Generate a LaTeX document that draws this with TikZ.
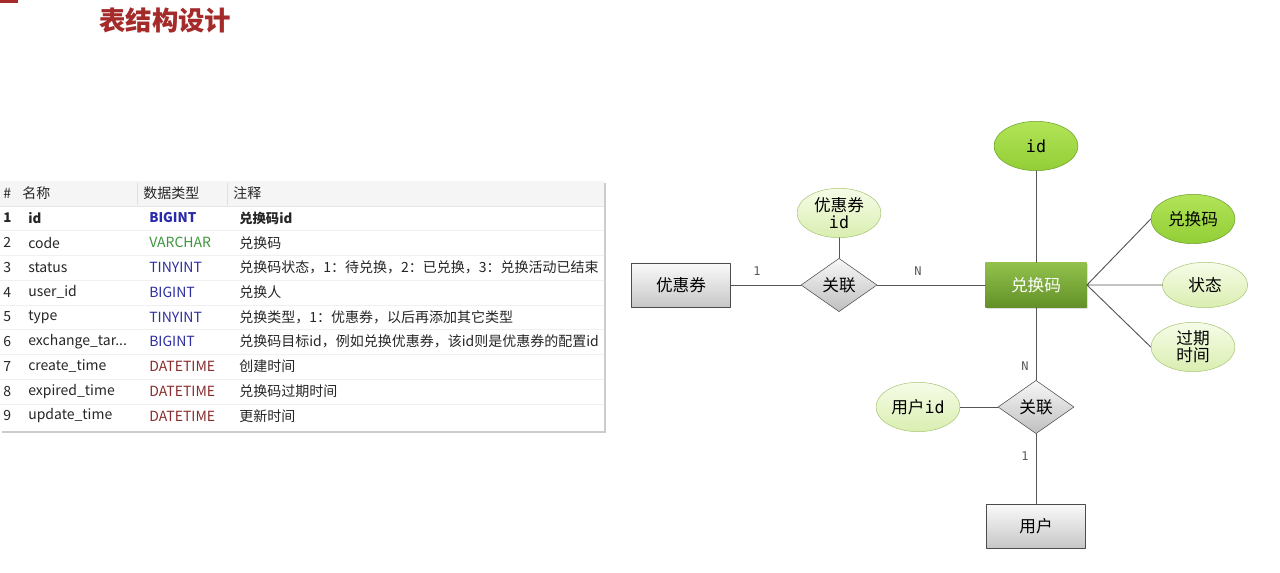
\documentclass[tikz,border=0pt]{standalone}
\usepackage{fontspec}
\setmainfont{Noto Sans CJK SC}
\newfontfamily\monof{DejaVu Sans Mono}
\usetikzlibrary{shapes.geometric,shadows}
\definecolor{titlered}{HTML}{A52A2A}
\definecolor{intblue}{HTML}{2E2EA0}
\definecolor{charg}{HTML}{3C963C}
\definecolor{datered}{HTML}{8B2C2C}
\definecolor{lnc}{HTML}{555555}
\newcommand\exname{exchange\_tar...}

\begin{document}
\begin{tikzpicture}[x=0.75pt,y=-0.75pt,font=\fontsize{10.5}{12}\selectfont,line join=round,line cap=round,
	cell/.style={anchor=west,inner sep=0pt,text=black!85},
	box/.style={draw=black!70,top color=black!2,bottom color=black!22,minimum width=74pt,minimum height=33pt,inner sep=0pt,font=\fontsize{12.5}{14}\selectfont},
	rel/.style={diamond,draw=black!70,top color=black!3,bottom color=black!25,minimum width=57pt,minimum height=40pt,inner sep=0pt,font=\fontsize{12.5}{14}\selectfont},
	main/.style={draw=none,top color={rgb,255:red,146;green,194;blue,76},bottom color={rgb,255:red,98;green,144;blue,40},text=white,minimum width=76pt,minimum height=34pt,inner sep=0pt,font=\fontsize{12.5}{14}\selectfont,drop shadow={shadow xshift=1pt,shadow yshift=-1pt,opacity=.25}},
	attr/.style={ellipse,draw={rgb,255:red,168;green,198;blue,120},top color={rgb,255:red,246;green,252;blue,232},bottom color={rgb,255:red,218;green,238;blue,176},minimum width=63pt,minimum height=37pt,inner sep=0pt,align=center,font=\fontsize{12.5}{15}\selectfont},
	key/.style={attr,draw={rgb,255:red,110;green,160;blue,46},top color={rgb,255:red,178;green,228;blue,88},bottom color={rgb,255:red,146;green,206;blue,54}},
	conn/.style={draw=lnc,line width=0.7pt},
	card/.style={font=\monof\fontsize{9}{10}\selectfont,text=black!65,inner sep=0pt}]
	\useasboundingbox (0,0) rectangle (1280,573);
	% title
	\fill[titlered] (0,0) rectangle (18,3);
	\node[anchor=west,inner sep=0pt,text=titlered,font=\fontsize{19.8}{22}\selectfont\bfseries] (title) at (99,20) {表结构设计};
	% table
	\fill[white,drop shadow={shadow xshift=1.5pt,shadow yshift=-1.5pt,opacity=.4}] (0,181) rectangle (604,431);
	\fill[black!4] (0,181) rectangle (604,206);
	\draw[black!12] (137,183) -- (137,205) (227,183) -- (227,205);
	\draw[black!10] (0,206) -- (604,206);
	\foreach \k in {1,2,3,4,5,6,7,8}
		\draw[black!6] (0,206+\k*24.75) -- (604,206+\k*24.75);
	\node[cell] (h0) at (3,193.5) {\#};
	\node[cell] (h1) at (22,193.5) {名称};
	\node[cell] (h2) at (143,193.5) {数据类型};
	\node[cell] (h3) at (233,193.5) {注释};
	\node[cell,font=\bfseries] (n1) at (3,218) {1};
	\node[cell,font=\bfseries] (c1) at (28,218) {id};
	\node[cell,font=\bfseries,text=intblue!90!blue] (t1) at (149,218) {BIGINT};
	\node[cell,font=\bfseries] (m1) at (239,218) {兑换码id};
	\foreach \i/\nm/\ty/\tc/\cm in {
		2/code/VARCHAR/charg/兑换码,
		3/status/TINYINT/intblue/兑换码状态，1：待兑换，2：已兑换，3：兑换活动已结束,
		4/user\_id/BIGINT/intblue/兑换人,
		5/type/TINYINT/intblue/兑换类型，1：优惠券，以后再添加其它类型,
		6/\exname/BIGINT/intblue/兑换码目标id，例如兑换优惠券，该id则是优惠券的配置id,
		7/create\_time/DATETIME/datered/创建时间,
		8/expired\_time/DATETIME/datered/兑换码过期时间,
		9/update\_time/DATETIME/datered/更新时间
	} {
		\node[cell] (n\i) at (3,218+\i*24.75-24.75) {\i};
		\node[cell] (c\i) at (28,218+\i*24.75-24.75) {\nm};
		\node[cell,text=\tc] (t\i) at (149,218+\i*24.75-24.75) {\ty};
		\node[cell] (m\i) at (239,218+\i*24.75-24.75) {\cm};
	}
	% ER diagram
	\node[box] (coupon) at (681,285) {优惠券};
	\node[rel] (rel1) at (839,285) {关联};
	\node[attr] (cid) at (839,213) {优惠券\\[-2pt]{\monof id}};
	\node[main] (code) at (1036,285) {兑换码};
	\node[key] (idattr) at (1036,146) {\monof id};
	\node[key] (acode) at (1193,219) {兑换码};
	\node[attr,minimum width=64pt,minimum height=34pt] (astat) at (1205,285) {状态};
	\node[attr] (aexp) at (1193,347) {过期\\[-2pt]时间};
	\node[rel] (rel2) at (1036,407) {关联};
	\node[attr] (uid) at (918,407) {用户{\monof id}};
	\node[box] (user) at (1036,526) {用户};
	\draw[conn] (coupon) -- (rel1) -- (code);
	\draw[conn] (cid) -- (rel1);
	\draw[conn] (idattr) -- (code);
	\draw[conn] (code.east) -- (acode.west) (code.east) -- (astat.west) (code.east) -- (aexp.west);
	\draw[conn] (code) -- (rel2) -- (user);
	\draw[conn] (uid) -- (rel2);
	\node[card] (l1) at (757,271) {1};
	\node[card] (l2) at (918,271) {N};
	\node[card] (l3) at (1025,366) {N};
	\node[card] (l4) at (1025,456) {1};
\end{tikzpicture}
\end{document}
